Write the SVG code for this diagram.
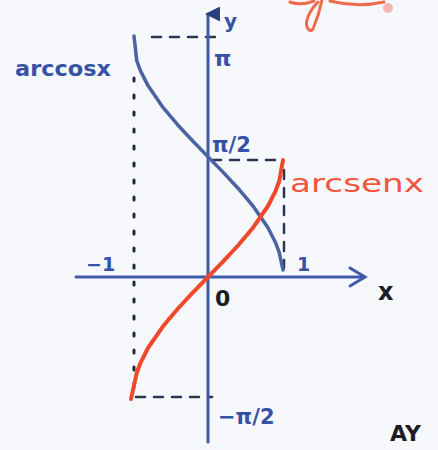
<svg xmlns="http://www.w3.org/2000/svg" width="438" height="450" viewBox="0 0 438 450">
<style>
.axis{stroke:#3f5ba8;stroke-width:3;fill:none;stroke-linecap:round}
.acos{stroke:#4a63a3;stroke-width:3.5;fill:none;stroke-linecap:round;stroke-linejoin:round}
.asin{stroke:#f0482a;stroke-width:4;fill:none;stroke-linecap:round;stroke-linejoin:round}
.dash{stroke:#2d3550;stroke-width:2.5;fill:none;stroke-dasharray:9 9;stroke-linecap:round}
.dots{stroke:#22263a;stroke-width:3;fill:none;stroke-dasharray:3 14;stroke-linecap:round}
.blue{font-family:"DejaVu Sans",sans-serif;fill:#3552a6;font-weight:bold}
.red{font-family:"DejaVu Sans",sans-serif;fill:#f2553c}
.blk{font-family:"DejaVu Sans",sans-serif;fill:#1c1c24;font-weight:bold}
.scr{stroke:#f26a4c;stroke-width:3;fill:none;stroke-linecap:round}
</style>
<defs>
<marker id="ya" viewBox="0 0 10 10" refX="5" refY="2" markerWidth="5" markerHeight="5" orient="auto-start-reverse">
<path d="M0,10 L5,0 L10,10 Z" fill="#2c3f80"/>
</marker>
</defs>
<rect width="438" height="450" fill="#f7f8fc"/>
<g id="scribble">
<path class="scr" d="M322,0 C320,10 316,22 313,29 C310,33 305,28 307,20 C309,12 314,6 318,2"/>
<path class="scr" d="M290,2 C298,5 306,4 314,1"/>
<path class="scr" d="M330,1 C350,6 370,5 384,2"/>
<circle cx="388" cy="8" r="5" fill="#f7b4b4"/>
</g>
<g id="guides">
<path class="dash" d="M152,37 H222"/>
<path class="dots" d="M134,78 V392"/>
<path class="dash" d="M212,160 H280"/>
<path class="dash" d="M284,170 V268"/>
<path class="dash" d="M136,397 H212"/>
</g>
<g id="axes">
<path class="axis" d="M208,442 V14" marker-end="url(#ya)"/>
<path class="axis" d="M76,277 H364"/>
<path class="axis" d="M350,268 L365,277 L350,286"/>
</g>
<g id="curves">
<polyline class="acos" points="134,36 136.75,60.7 140.5,70.9 148,85.6 163,107.4 178,125.2 193,141.3 208,156.7 223,172.1 238,188.2 253,206 268,227.7 275.5,242.5 279.25,252.7 283,270"/>
<polyline class="asin" points="131,399 136.75,373 140.5,362.8 148,348 163,326.3 178,308.5 193,292.4 208,277 223,261.6 238,245.5 253,227.7 268,206 275.5,191.2 279.25,181 283,160"/>
</g>
<g id="labels">
<text class="blue" x="15" y="76" font-size="21" textLength="96" lengthAdjust="spacingAndGlyphs">arccosx</text>
<text class="blue" x="214" y="66" font-size="22">π</text>
<text class="blue" x="212" y="152" font-size="21">π/2</text>
<text class="red" x="290" y="192" font-size="25" textLength="134" lengthAdjust="spacingAndGlyphs">arcsenx</text>
<text class="blue" x="86" y="271" font-size="19">−1</text>
<text class="blue" x="297" y="271" font-size="19">1</text>
<text class="blk" x="215" y="306" font-size="22">0</text>
<text class="blk" x="378" y="300" font-size="24">x</text>
<text class="blue" x="224" y="28" font-size="20">y</text>
<text class="blue" x="218" y="424" font-size="21">−π/2</text>
<text class="blk" x="390" y="441" font-size="22">AY</text>
</g>
</svg>
